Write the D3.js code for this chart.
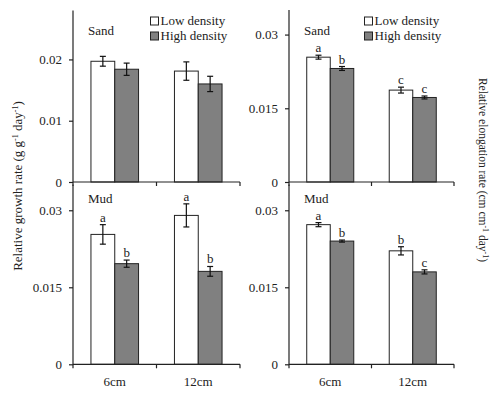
<!DOCTYPE html>
<html>
<head>
<meta charset="utf-8">
<script src="https://cdn.jsdelivr.net/npm/d3@7"></script>
<style>
  body { margin: 0; background: #fff; }
  text { font-family: "Liberation Serif", "Times New Roman", serif; fill: #222; }
</style>
</head>
<body>
<div id="chart"></div>
<script>
/* global d3:false */
(function() {

// categories (burial depth) and series
var categories = ["6cm", "12cm"];
var densities  = ["Low density", "High density"];

// relative growth rate (g g-1 day-1)
var rgrSandLow     = [0.0197, 0.0181];
var rgrSandLowErr  = [0.0008, 0.0015];
var rgrSandHigh    = [0.0184, 0.0160];
var rgrSandHighErr = [0.0010, 0.00125];
var rgrMudLow      = [0.0253, 0.0290];
var rgrMudLowErr   = [0.0019, 0.00225];
var rgrMudHigh     = [0.0196, 0.0181];
var rgrMudHighErr  = [0.0007, 0.00095];
var rgrMudLowSig   = ["a", "a"];
var rgrMudHighSig  = ["b", "b"];

// relative elongation rate (cm cm-1 day-1)
var reSandLow      = [0.0254, 0.0187];
var reSandLowErr   = [0.0004, 0.0006];
var reSandHigh     = [0.0231, 0.0172];
var reSandHighErr  = [0.0004, 0.0003];
var reSandLowSig   = ["a", "c"];
var reSandHighSig  = ["b", "c"];
var reMudLow       = [0.0272, 0.0221];
var reMudLowErr    = [0.0004, 0.0008];
var reMudHigh      = [0.0240, 0.0180];
var reMudHighErr   = [0.0002, 0.0004];
var reMudLowSig    = ["a", "b"];
var reMudHighSig   = ["b", "c"];

// tick values
var rgrSandTicks = [0, 0.01, 0.02];
var otherTicks   = [0, 0.015, 0.03];

var svg = d3.select("#chart").append("svg")
  .attr("width", 500)
  .attr("height", 396);

var fill = { "Low density": "#ffffff", "High density": "#808080" };

function rows(low, lowErr, lowSig, high, highErr, highSig) {
  var out = [];
  categories.forEach(function(c, i) {
    out.push({ cat: c, dens: densities[0], v: low[i], e: lowErr[i], sig: lowSig ? lowSig[i] : null });
    out.push({ cat: c, dens: densities[1], v: high[i], e: highErr[i], sig: highSig ? highSig[i] : null });
  });
  return out;
}

function panel(p) {
  var g = svg.append("g");
  var x = d3.scaleBand().domain(categories).range([p.x0, p.x1]);
  var bw = x.bandwidth();
  var xi = d3.scaleBand().domain(densities).range([bw * 0.215, bw * 0.785]);
  var y = d3.scaleLinear().domain([0, p.max]).range([p.yb, p.yt]);

  // bars
  g.selectAll("rect.bar").data(p.data).enter().append("rect")
    .attr("class", "bar")
    .attr("x", function(d) { return x(d.cat) + xi(d.dens); })
    .attr("y", function(d) { return y(d.v); })
    .attr("width", xi.bandwidth())
    .attr("height", function(d) { return y(0) - y(d.v); })
    .style("fill", function(d) { return fill[d.dens]; })
    .style("stroke", "#222")
    .style("stroke-width", 1);

  // error bars
  var eb = g.selectAll("g.err").data(p.data).enter().append("g")
    .attr("transform", function(d) {
      return "translate(" + (x(d.cat) + xi(d.dens) + xi.bandwidth() / 2) + ",0)";
    })
    .style("stroke", "#111")
    .style("stroke-width", 1.2);
  eb.append("line")
    .attr("x1", 0).attr("x2", 0)
    .attr("y1", function(d) { return y(d.v + d.e); })
    .attr("y2", function(d) { return y(d.v - d.e); });
  eb.append("line")
    .attr("x1", -3).attr("x2", 3)
    .attr("y1", function(d) { return y(d.v + d.e); })
    .attr("y2", function(d) { return y(d.v + d.e); });
  eb.append("line")
    .attr("x1", -3).attr("x2", 3)
    .attr("y1", function(d) { return y(d.v - d.e); })
    .attr("y2", function(d) { return y(d.v - d.e); });

  // significance letters
  g.selectAll("text.sig").data(p.data.filter(function(d) { return d.sig; })).enter().append("text")
    .attr("x", function(d) { return x(d.cat) + xi(d.dens) + xi.bandwidth() / 2; })
    .attr("y", function(d) { return y(d.v + d.e) - 3; })
    .attr("text-anchor", "middle")
    .style("font-size", "13px")
    .text(function(d) { return d.sig; });

  // y axis
  var ya = g.append("g")
    .attr("transform", "translate(" + p.x0 + ",0)")
    .call(d3.axisLeft(y).tickValues(p.ticks).tickSize(4).tickPadding(7)
      .tickFormat(function(d) { return d === 0 ? "0" : String(d); }));
  ya.select(".domain").attr("d", "M0," + p.yt + "V" + p.yb);

  // x axis
  var xa = g.append("g")
    .attr("transform", "translate(0," + p.yb + ")")
    .call(d3.axisBottom(x).tickSize(0).tickPadding(12)
      .tickFormat(p.labels ? null : function() { return ""; }));
  xa.select(".domain").attr("d", "M" + p.x0 + ",0H" + p.x1);
  xa.selectAll(".cut").data(d3.range(categories.length + 1)).enter().append("line")
    .attr("class", "cut")
    .attr("x1", function(i) { return p.x0 + i * bw; })
    .attr("x2", function(i) { return p.x0 + i * bw; })
    .attr("y1", 0).attr("y2", 4);

  [ya, xa].forEach(function(a) {
    a.selectAll("path, line").style("stroke", "#222").style("stroke-width", 1.2);
    a.selectAll("text").style("font-size", "13px")
      .style("font-family", "\"Liberation Serif\", serif").style("fill", "#222");
  });

  // panel label
  g.append("text")
    .attr("x", p.x0 + 15)
    .attr("y", p.titleY)
    .style("font-size", "13px")
    .text(p.title);

  // legend
  if (p.legend) {
    var lg = g.selectAll("g.leg").data(densities).enter().append("g")
      .attr("transform", function(d, i) { return "translate(" + p.legend[0] + "," + (p.legend[1] + i * 15) + ")"; });
    lg.append("rect")
      .attr("x", 0).attr("y", -8)
      .attr("width", 8).attr("height", 8)
      .style("fill", function(d) { return fill[d]; })
      .style("stroke", "#222");
    lg.append("text")
      .attr("x", 10).attr("y", 0)
      .style("font-size", "13px")
      .text(function(d) { return d; });
  }
}

panel({ x0: 73, x1: 240, yt: 10.4, yb: 182, max: 0.028, ticks: rgrSandTicks, title: "Sand",
        titleY: 35, legend: [150.5, 25], labels: false,
        data: rows(rgrSandLow, rgrSandLowErr, null, rgrSandHigh, rgrSandHighErr, null) });
panel({ x0: 289, x1: 454, yt: 10, yb: 182, max: 0.035, ticks: otherTicks, title: "Sand",
        titleY: 35, legend: [364.5, 25], labels: false,
        data: rows(reSandLow, reSandLowErr, reSandLowSig, reSandHigh, reSandHighErr, reSandHighSig) });
panel({ x0: 73, x1: 240, yt: 184.6, yb: 364.3, max: 0.035, ticks: otherTicks, title: "Mud",
        titleY: 203, legend: null, labels: true,
        data: rows(rgrMudLow, rgrMudLowErr, rgrMudLowSig, rgrMudHigh, rgrMudHighErr, rgrMudHighSig) });
panel({ x0: 289, x1: 454, yt: 184.6, yb: 364.3, max: 0.035, ticks: otherTicks, title: "Mud",
        titleY: 203, legend: null, labels: true,
        data: rows(reMudLow, reMudLowErr, reMudLowSig, reMudHigh, reMudHighErr, reMudHighSig) });

// axis titles
function unitLabel(t, parts) {
  parts.forEach(function(s) {
    var ts = t.append("tspan").text(s[0]);
    if (s[1]) ts.attr("baseline-shift", "super").style("font-size", "8px");
  });
}

var leftT = svg.append("text")
  .attr("transform", "translate(21.5,186) rotate(-90)")
  .attr("text-anchor", "middle")
  .style("font-size", "13px");
unitLabel(leftT, [["Relative growth rate (g g"], ["-1", true], [" day"], ["-1", true], [")"]]);

var rightT = svg.append("text")
  .attr("transform", "translate(478.5,170) rotate(90)")
  .attr("text-anchor", "middle")
  .style("font-size", "11.5px");
unitLabel(rightT, [["Relative elongation rate (cm cm"], ["-1", true], [" day"], ["-1", true], [")"]]);

})();
</script>
</body>
</html>
